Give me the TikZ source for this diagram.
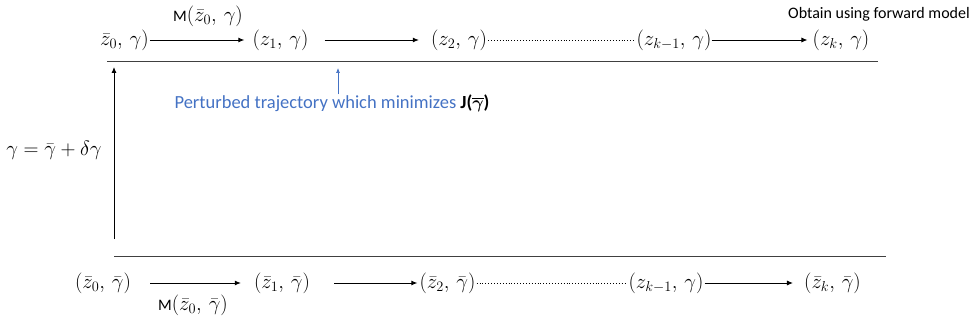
\documentclass[tikz,border=0pt]{standalone}
\usepackage{amsmath}
\usepackage{fontspec}
\setmainfont{Carlito}
\usetikzlibrary{arrows.meta}
\definecolor{pblue}{HTML}{4472C4}
\newcommand{\cm}{,\,}
\begin{document}
\begin{tikzpicture}[x=1pt,y=-1pt,
  lbl/.style={inner sep=0pt, font=\fontsize{16}{19}\selectfont},
  mth/.style={inner sep=0pt, font=\fontsize{20}{24}\selectfont},
  arr/.style={-{Latex[length=6pt,width=5pt]}, line width=0.9pt},
  barr/.style={-{Latex[length=5pt,width=4pt]}, line width=0.7pt, draw=pblue},
  dotline/.style={dotted, line width=0.9pt},
  rulel/.style={line width=1pt, draw=black!75}]
\useasboundingbox (0,0) rectangle (979,331);
% top row
\node[mth] (t0) at (124.5,40) {$\bar z_0\cm\gamma)$};
\node[mth] (t1) at (280.5,40) {$(z_1\cm\gamma)$};
\node[mth] (t2) at (459,40) {$(z_2\cm\gamma)$};
\node[mth] (t3) at (674,40) {$(z_{k-1}\cm\gamma)$};
\node[mth] (t4) at (841,40) {$(z_k\cm\gamma)$};
\node[mth] (mt) at (208,16) {{\fontsize{16}{19}\selectfont M}$(\bar z_0\cm\gamma)$};
\node[lbl] (fm) at (879,14) {Obtain using forward model};
\draw[arr, shorten <=1pt, shorten >=8pt] (t0) -- (t1);
\draw[arr, shorten <=16pt, shorten >=12pt] (t1) -- (t2);
\draw[dotline, shorten <=1pt, shorten >=1pt] (t2) -- (t3);
\draw[arr, shorten >=5pt] (t3) -- (t4);
% rules
\coordinate (tl) at (107,62); \coordinate (tr) at (878,62);
\coordinate (bl) at (114,256); \coordinate (br) at (886,256);
\draw[rulel] (tl) -- (tr);
\draw[rulel] (bl) -- (br);
% perturbed
\coordinate (bt) at (338,68);
\node[inner sep=0pt, font=\fontsize{18.5}{22}\selectfont, text=pblue] (ptxt) at (332,103) {Perturbed trajectory which minimizes \textcolor{black}{\textbf{J(}$\overline{\boldsymbol{\gamma}}$\textbf{)}}};
\draw[barr] (ptxt.north -| bt) -- (bt);
% vertical
\coordinate (vb) at (114,239); \coordinate (vt) at (114,67);
\draw[arr] (vb) -- (vt);
\node[mth] (gl) at (54,150) {$\gamma=\bar\gamma+\delta\gamma$};
% bottom row
\node[mth] (b0) at (103,283) {$(\bar z_0\cm\bar\gamma)$};
\node[mth] (b1) at (282,283) {$(\bar z_1\cm\bar\gamma)$};
\node[mth] (b2) at (447.5,283) {$(\bar z_2\cm\bar\gamma)$};
\node[mth] (b3) at (666,283) {$(z_{k-1}\cm\gamma)$};
\node[mth] (b4) at (832.5,283) {$(\bar z_k\cm\bar\gamma)$};
\node[mth] (mb) at (193,305) {{\fontsize{16}{19}\selectfont M}$(\bar z_0\cm\bar\gamma)$};
\draw[arr, shorten <=19pt, shorten >=13pt] (b0) -- (b1);
\draw[arr, shorten <=24pt, shorten >=2pt] (b1) -- (b2);
\draw[dotline, shorten <=1pt, shorten >=1pt] (b2) -- (b3);
\draw[arr, shorten <=1pt, shorten >=11pt] (b3) -- (b4);
\end{tikzpicture}
\end{document}
